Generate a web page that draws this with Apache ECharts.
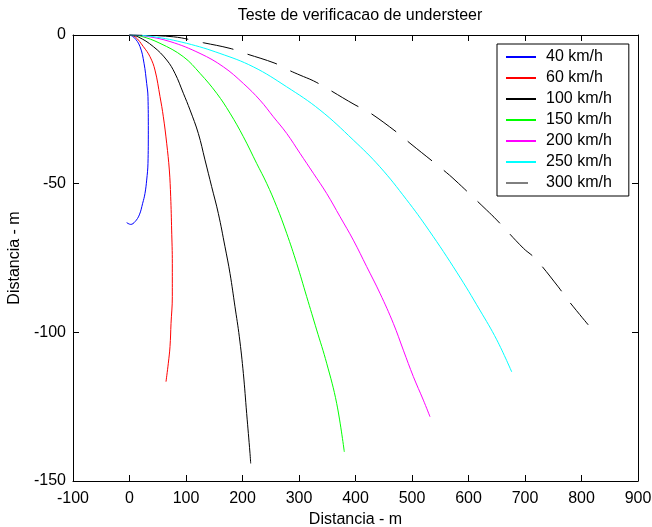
<!DOCTYPE html>
<html>
<head>
<meta charset="utf-8">
<script src="https://cdn.jsdelivr.net/npm/echarts@6/dist/echarts.min.js"></script>
<style>html,body{margin:0;padding:0;background:#fff;}#c{width:652px;height:527px;}</style>
</head>
<body>
<div id="c"></div>
<script>
const titleText = 'Teste de verificacao de understeer';
const xName = 'Distancia - m';
const yName = 'Distancia - m';
const legendNames = ['40 km/h','60 km/h','100 km/h','150 km/h','200 km/h','250 km/h','300 km/h'];
const colors = ['#0000ff','#ff0000','#000000','#00ff00','#ff00ff','#00ffff','#000000'];
const xTicks = {min:-100, max:900, interval:100};
const yTicks = {min:-150, max:0, interval:50};

const v40 = [[0,0],[8,-0.8],[18.6,-3.9],[25.7,-9.5],[30.4,-16.3],[32.7,-20.7],[33.3,-32],[32.7,-43.2],[30.4,-48.8],[27.4,-53.3],[23.3,-56.6],[17.4,-60.5],[9.7,-62.8],[2.1,-63.7],[-5,-63.1]];
const v60 = [[0,0],[10,-0.6],[24.5,-3.9],[36.3,-7.3],[45.1,-11.8],[54,-20.7],[59.9,-27.5],[65.8,-36.4],[70.5,-45.4],[72.9,-54.4],[74.6,-65.6],[75.8,-76.8],[75.8,-88],[73.5,-97],[71.7,-104.8],[68.7,-110.4],[64.6,-116.6]];
const v100 = [[0,0],[15,-0.6],[42.2,-3.9],[65.8,-8.4],[80.5,-12.9],[95.3,-19.6],[107.1,-25.2],[121.8,-33.1],[133.6,-42],[145.4,-51],[157.2,-60],[169,-71.2],[177.9,-80.2],[186.7,-91.4],[194.4,-101.5],[201.5,-113.8],[207.4,-127.3],[213.3,-140.7],[214.5,-144.1]];
const v150 = [[0,0],[20,-0.4],[54,-2.8],[95.3,-7.3],[124.8,-12.9],[154.3,-19.6],[177.9,-26.3],[201.5,-34.2],[225.1,-43.2],[242.8,-49.9],[260.5,-57.7],[278.2,-66.7],[295.9,-76.8],[313.6,-88],[331.3,-99.2],[349,-110.4],[366.7,-123.9],[380.2,-140.2]];
const v200 = [[0,0],[25,-0.3],[71.7,-2.2],[124.8,-6.2],[166.1,-10.7],[201.5,-16.3],[230.9,-21.9],[254.6,-27.5],[278.2,-33.1],[301.8,-39.8],[325.4,-46.5],[349,-53.3],[372.6,-61.1],[396.2,-69],[419.8,-77.9],[443.4,-86.9],[467,-97],[484.7,-106],[502.4,-114.9],[520.1,-122.8],[531.9,-128.4]];
const v250 = [[0,0],[40,-0.5],[101,-2.8],[160,-6.2],[219,-10.7],[278,-17.4],[337,-25.2],[396,-35.3],[443,-44.3],[490,-55.3],[530,-65.7],[580,-80],[620,-92.5],[650,-102.5],[676.5,-113.3]];
const v300 = [[0,0],[77.5,-0.6],[130.6,-2.6],[177.9,-4.5],[201.4,-6],[257.5,-9.5],[278.2,-11.5],[301.8,-13.5],[325.4,-15.4],[349,-17.9],[399.1,-23.5],[422.7,-25.8],[475.8,-33.1],[496.5,-36.4],[555.4,-45.4],[576.1,-48.8],[632.2,-58.9],[649.9,-62.2],[697,-71.7],[717.7,-75.1],[758.9,-84.7],[773.8,-88.6],[812,-97.5]];
const seriesData = [v40, v60, v100, v150, v200, v250, v300];

const font = 'Liberation Sans, Arial, sans-serif';
const chart = echarts.init(document.getElementById('c'), null, {renderer:'canvas'});

function mkX(pos, labels){
  return {type:'value', position:pos, min:xTicks.min, max:xTicks.max, interval:xTicks.interval,
    axisLine:{show:true, onZero:false, lineStyle:{color:'#000', width:1}},
    axisTick:{show:true, inside:true, length:6, lineStyle:{color:'#000'}},
    splitLine:{show:false},
    axisLabel:{show:labels, color:'#000', fontSize:16, fontFamily:font, margin:10},
    name: labels ? xName : '', nameLocation:'middle', nameGap:28,
    nameTextStyle:{color:'#000', fontSize:16, fontFamily:font}};
}
function mkY(pos, labels){
  return {type:'value', position:pos, min:yTicks.min, max:yTicks.max, interval:yTicks.interval,
    axisLine:{show:true, onZero:false, lineStyle:{color:'#000', width:1}},
    axisTick:{show:true, inside:true, length:6, lineStyle:{color:'#000'}},
    splitLine:{show:false},
    axisLabel:{show:labels, color:'#000', fontSize:16, fontFamily:font, margin:7},
    name: labels ? yName : '', nameLocation:'middle', nameGap:38, nameRotate:90,
    nameTextStyle:{color:'#000', fontSize:16, fontFamily:font}};
}

const legendData = legendNames.map((n,i)=> i===6 ? {name:n, lineStyle:{type:[22,30], width:1, dashOffset:0}} : {name:n});

chart.setOption({
  animation:false,
  backgroundColor:'#fff',
  title:{text:titleText, left:355, textAlign:'center', top:3,
    textStyle:{color:'#000', fontSize:16, fontWeight:'normal', fontFamily:font}},
  grid:{left:73, top:35, right:14, bottom:46, containLabel:false, outerBoundsMode:'none'},
  xAxis:[mkX('bottom', true), mkX('top', false)],
  yAxis:[mkY('left', true), mkY('right', false)],
  legend:{orient:'vertical', left:497, top:44, padding:[5,17,5,8], itemGap:5,
    itemWidth:30, itemHeight:14, backgroundColor:'#fff', borderColor:'#000', borderWidth:1, borderRadius:0,
    itemStyle:{opacity:0, borderWidth:0},
    textStyle:{color:'#000', fontSize:16, fontFamily:font, padding:[0,0,0,5]},
    data:legendData},
  series: seriesData.map((d,i)=>({
    name:legendNames[i], type:'line', data:d, xAxisIndex:0, yAxisIndex:0,
    symbol:'none', smooth:0.4, color:colors[i],
    lineStyle:{color:colors[i], width:1, type: i===6 ? [31,15] : 'solid', dashOffset: i===6 ? 18 : 0}
  }))
});
</script>
</body>
</html>
